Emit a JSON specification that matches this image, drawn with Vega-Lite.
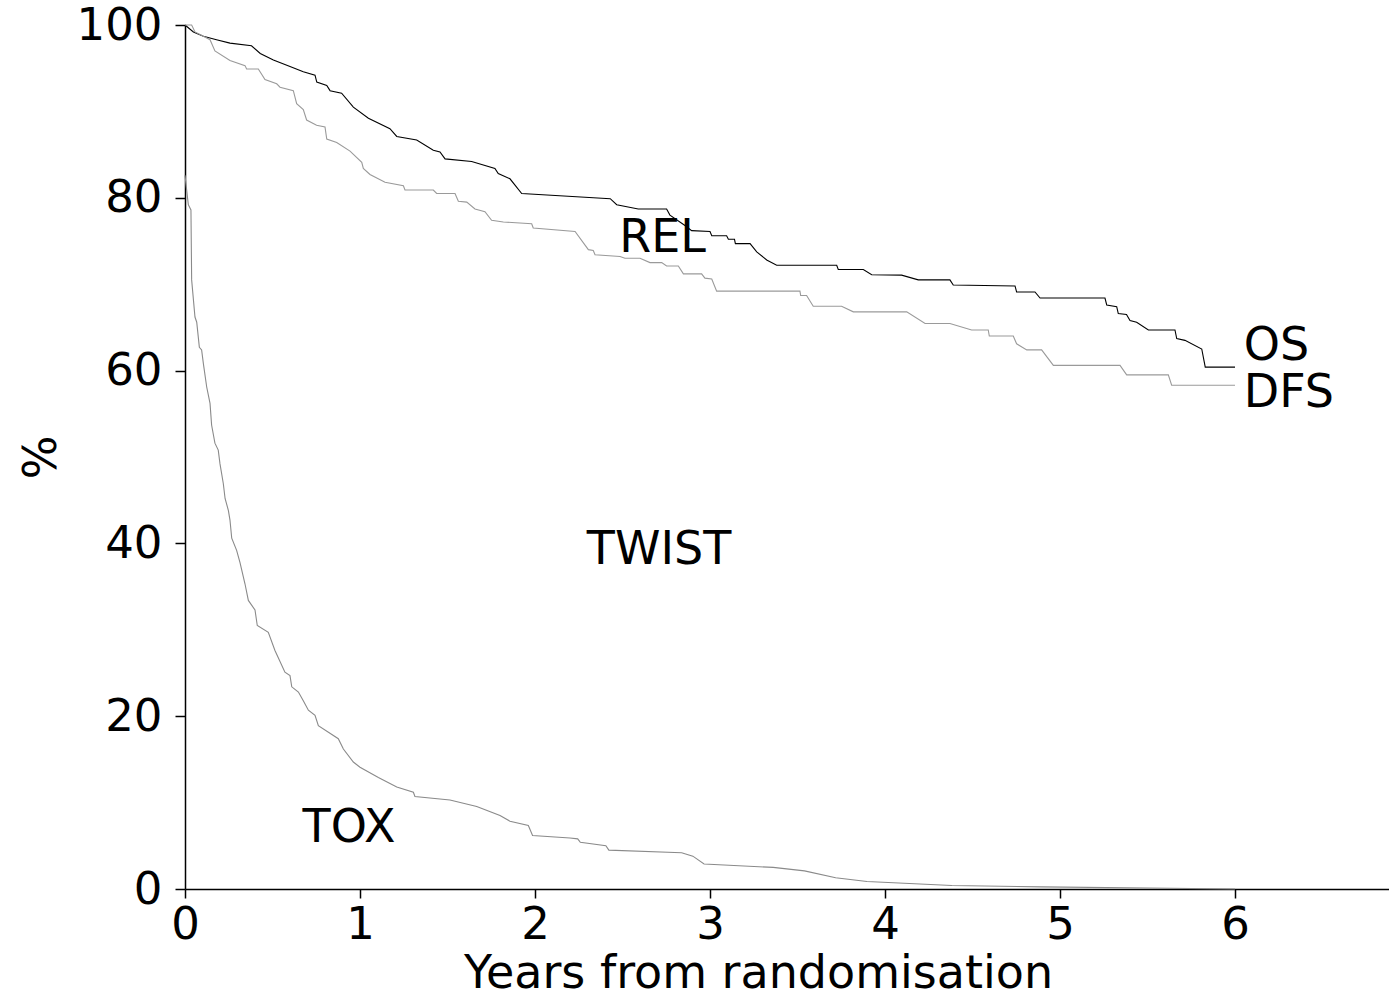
{
  "$schema": "https://vega.github.io/schema/vega-lite/v6.json",
  "width": 1204,
  "height": 864,
  "autosize": {"type": "none"},
  "padding": {"left": 185, "top": 25, "right": 0, "bottom": 106},
  "background": "white",
  "config": {"view": {"stroke": null}, "font": "DejaVu Sans"},
  "layer": [
    {
      "data": {"values": [
        {"curve":"OS","t":0,"pct":100},{"curve":"OS","t":0.048,"pct":99.2},{"curve":"OS","t":0.105,"pct":98.7},{"curve":"OS","t":0.18,"pct":98.3},{"curve":"OS","t":0.257,"pct":97.9},{"curve":"OS","t":0.38,"pct":97.6},{"curve":"OS","t":0.43,"pct":96.7},{"curve":"OS","t":0.505,"pct":95.95},{"curve":"OS","t":0.6,"pct":95.2},{"curve":"OS","t":0.676,"pct":94.6},{"curve":"OS","t":0.743,"pct":94.2},{"curve":"OS","t":0.753,"pct":93.4},{"curve":"OS","t":0.81,"pct":93.0},{"curve":"OS","t":0.829,"pct":92.4},{"curve":"OS","t":0.895,"pct":92.1},{"curve":"OS","t":0.962,"pct":90.5},{"curve":"OS","t":1.048,"pct":89.2},{"curve":"OS","t":1.171,"pct":88.0},{"curve":"OS","t":1.21,"pct":87.1},{"curve":"OS","t":1.324,"pct":86.7},{"curve":"OS","t":1.419,"pct":85.5},{"curve":"OS","t":1.457,"pct":85.3},{"curve":"OS","t":1.486,"pct":84.5},{"curve":"OS","t":1.638,"pct":84.2},{"curve":"OS","t":1.771,"pct":83.4},{"curve":"OS","t":1.79,"pct":82.8},{"curve":"OS","t":1.857,"pct":82.2},{"curve":"OS","t":1.924,"pct":80.5},{"curve":"OS","t":2.43,"pct":79.9},{"curve":"OS","t":2.467,"pct":79.2},{"curve":"OS","t":2.59,"pct":78.7},{"curve":"OS","t":2.752,"pct":78.7},{"curve":"OS","t":2.771,"pct":78.0},{"curve":"OS","t":2.857,"pct":76.8},{"curve":"OS","t":2.895,"pct":76.2},{"curve":"OS","t":3.0,"pct":76.1},{"curve":"OS","t":3.01,"pct":75.6},{"curve":"OS","t":3.095,"pct":75.6},{"curve":"OS","t":3.105,"pct":75.2},{"curve":"OS","t":3.14,"pct":75.2},{"curve":"OS","t":3.145,"pct":74.7},{"curve":"OS","t":3.229,"pct":74.7},{"curve":"OS","t":3.267,"pct":73.75},{"curve":"OS","t":3.324,"pct":72.8},{"curve":"OS","t":3.381,"pct":72.2},{"curve":"OS","t":3.724,"pct":72.2},{"curve":"OS","t":3.733,"pct":71.7},{"curve":"OS","t":3.876,"pct":71.7},{"curve":"OS","t":3.924,"pct":71.1},{"curve":"OS","t":4.095,"pct":71.05},{"curve":"OS","t":4.19,"pct":70.5},{"curve":"OS","t":4.371,"pct":70.5},{"curve":"OS","t":4.39,"pct":69.9},{"curve":"OS","t":4.743,"pct":69.8},{"curve":"OS","t":4.752,"pct":69.1},{"curve":"OS","t":4.857,"pct":69.1},{"curve":"OS","t":4.886,"pct":68.4},{"curve":"OS","t":5.257,"pct":68.4},{"curve":"OS","t":5.267,"pct":67.6},{"curve":"OS","t":5.324,"pct":67.4},{"curve":"OS","t":5.333,"pct":66.6},{"curve":"OS","t":5.38,"pct":66.5},{"curve":"OS","t":5.4,"pct":65.8},{"curve":"OS","t":5.438,"pct":65.6},{"curve":"OS","t":5.505,"pct":64.7},{"curve":"OS","t":5.657,"pct":64.7},{"curve":"OS","t":5.667,"pct":63.7},{"curve":"OS","t":5.714,"pct":63.5},{"curve":"OS","t":5.81,"pct":62.5},{"curve":"OS","t":5.83,"pct":60.4},{"curve":"OS","t":6.0,"pct":60.4},
        {"curve":"DFS","t":0,"pct":100},{"curve":"DFS","t":0.038,"pct":100},{"curve":"DFS","t":0.057,"pct":99.2},{"curve":"DFS","t":0.105,"pct":98.7},{"curve":"DFS","t":0.143,"pct":98.3},{"curve":"DFS","t":0.171,"pct":97.0},{"curve":"DFS","t":0.257,"pct":95.9},{"curve":"DFS","t":0.343,"pct":95.3},{"curve":"DFS","t":0.352,"pct":94.9},{"curve":"DFS","t":0.419,"pct":94.9},{"curve":"DFS","t":0.457,"pct":93.7},{"curve":"DFS","t":0.524,"pct":93.2},{"curve":"DFS","t":0.543,"pct":92.8},{"curve":"DFS","t":0.619,"pct":92.4},{"curve":"DFS","t":0.638,"pct":90.9},{"curve":"DFS","t":0.676,"pct":90.2},{"curve":"DFS","t":0.695,"pct":89.0},{"curve":"DFS","t":0.752,"pct":88.4},{"curve":"DFS","t":0.8,"pct":88.2},{"curve":"DFS","t":0.81,"pct":86.8},{"curve":"DFS","t":0.867,"pct":86.4},{"curve":"DFS","t":0.943,"pct":85.4},{"curve":"DFS","t":1.01,"pct":84.1},{"curve":"DFS","t":1.019,"pct":83.4},{"curve":"DFS","t":1.057,"pct":82.7},{"curve":"DFS","t":1.143,"pct":81.8},{"curve":"DFS","t":1.248,"pct":81.4},{"curve":"DFS","t":1.257,"pct":80.9},{"curve":"DFS","t":1.419,"pct":80.9},{"curve":"DFS","t":1.438,"pct":80.5},{"curve":"DFS","t":1.543,"pct":80.5},{"curve":"DFS","t":1.562,"pct":79.6},{"curve":"DFS","t":1.61,"pct":79.5},{"curve":"DFS","t":1.657,"pct":78.7},{"curve":"DFS","t":1.714,"pct":78.4},{"curve":"DFS","t":1.752,"pct":77.4},{"curve":"DFS","t":1.819,"pct":77.2},{"curve":"DFS","t":1.981,"pct":77.0},{"curve":"DFS","t":1.99,"pct":76.5},{"curve":"DFS","t":2.229,"pct":76.1},{"curve":"DFS","t":2.305,"pct":74.0},{"curve":"DFS","t":2.333,"pct":73.9},{"curve":"DFS","t":2.343,"pct":73.4},{"curve":"DFS","t":2.486,"pct":73.2},{"curve":"DFS","t":2.514,"pct":73.0},{"curve":"DFS","t":2.6,"pct":73.0},{"curve":"DFS","t":2.657,"pct":72.5},{"curve":"DFS","t":2.724,"pct":72.5},{"curve":"DFS","t":2.752,"pct":72.1},{"curve":"DFS","t":2.819,"pct":72.1},{"curve":"DFS","t":2.848,"pct":71.2},{"curve":"DFS","t":2.952,"pct":71.2},{"curve":"DFS","t":2.971,"pct":70.7},{"curve":"DFS","t":3.01,"pct":70.6},{"curve":"DFS","t":3.038,"pct":69.2},{"curve":"DFS","t":3.514,"pct":69.2},{"curve":"DFS","t":3.518,"pct":68.7},{"curve":"DFS","t":3.552,"pct":68.7},{"curve":"DFS","t":3.59,"pct":67.45},{"curve":"DFS","t":3.752,"pct":67.45},{"curve":"DFS","t":3.819,"pct":66.8},{"curve":"DFS","t":4.124,"pct":66.8},{"curve":"DFS","t":4.229,"pct":65.45},{"curve":"DFS","t":4.371,"pct":65.45},{"curve":"DFS","t":4.495,"pct":64.7},{"curve":"DFS","t":4.59,"pct":64.7},{"curve":"DFS","t":4.596,"pct":64.0},{"curve":"DFS","t":4.733,"pct":64.0},{"curve":"DFS","t":4.752,"pct":63.1},{"curve":"DFS","t":4.81,"pct":62.4},{"curve":"DFS","t":4.895,"pct":62.4},{"curve":"DFS","t":4.962,"pct":60.6},{"curve":"DFS","t":5.343,"pct":60.6},{"curve":"DFS","t":5.381,"pct":59.5},{"curve":"DFS","t":5.619,"pct":59.5},{"curve":"DFS","t":5.638,"pct":58.3},{"curve":"DFS","t":6.0,"pct":58.3},
        {"curve":"TOX","t":0,"pct":82.6},{"curve":"TOX","t":0.019,"pct":79.2},{"curve":"TOX","t":0.034,"pct":78.6},{"curve":"TOX","t":0.038,"pct":70.5},{"curve":"TOX","t":0.057,"pct":66.2},{"curve":"TOX","t":0.067,"pct":65.6},{"curve":"TOX","t":0.082,"pct":62.7},{"curve":"TOX","t":0.095,"pct":62.4},{"curve":"TOX","t":0.105,"pct":60.8},{"curve":"TOX","t":0.124,"pct":58.1},{"curve":"TOX","t":0.143,"pct":56.2},{"curve":"TOX","t":0.152,"pct":53.7},{"curve":"TOX","t":0.171,"pct":51.6},{"curve":"TOX","t":0.19,"pct":50.8},{"curve":"TOX","t":0.2,"pct":49.2},{"curve":"TOX","t":0.219,"pct":46.9},{"curve":"TOX","t":0.229,"pct":45.2},{"curve":"TOX","t":0.248,"pct":43.8},{"curve":"TOX","t":0.257,"pct":42.7},{"curve":"TOX","t":0.267,"pct":40.6},{"curve":"TOX","t":0.295,"pct":39.2},{"curve":"TOX","t":0.314,"pct":37.8},{"curve":"TOX","t":0.343,"pct":35.3},{"curve":"TOX","t":0.362,"pct":33.4},{"curve":"TOX","t":0.4,"pct":32.3},{"curve":"TOX","t":0.413,"pct":30.5},{"curve":"TOX","t":0.476,"pct":29.7},{"curve":"TOX","t":0.514,"pct":27.6},{"curve":"TOX","t":0.571,"pct":25.1},{"curve":"TOX","t":0.6,"pct":24.7},{"curve":"TOX","t":0.61,"pct":23.4},{"curve":"TOX","t":0.648,"pct":22.8},{"curve":"TOX","t":0.676,"pct":21.8},{"curve":"TOX","t":0.705,"pct":20.7},{"curve":"TOX","t":0.743,"pct":20.1},{"curve":"TOX","t":0.762,"pct":18.9},{"curve":"TOX","t":0.876,"pct":17.4},{"curve":"TOX","t":0.905,"pct":16.2},{"curve":"TOX","t":0.962,"pct":14.7},{"curve":"TOX","t":1.0,"pct":14.1},{"curve":"TOX","t":1.105,"pct":12.9},{"curve":"TOX","t":1.21,"pct":11.8},{"curve":"TOX","t":1.305,"pct":11.2},{"curve":"TOX","t":1.314,"pct":10.7},{"curve":"TOX","t":1.514,"pct":10.3},{"curve":"TOX","t":1.667,"pct":9.55},{"curve":"TOX","t":1.8,"pct":8.5},{"curve":"TOX","t":1.857,"pct":7.85},{"curve":"TOX","t":1.962,"pct":7.35},{"curve":"TOX","t":1.986,"pct":6.2},{"curve":"TOX","t":2.2,"pct":5.9},{"curve":"TOX","t":2.244,"pct":5.8},{"curve":"TOX","t":2.259,"pct":5.4},{"curve":"TOX","t":2.405,"pct":5.0},{"curve":"TOX","t":2.422,"pct":4.5},{"curve":"TOX","t":2.838,"pct":4.2},{"curve":"TOX","t":2.902,"pct":3.8},{"curve":"TOX","t":2.966,"pct":2.9},{"curve":"TOX","t":3.361,"pct":2.5},{"curve":"TOX","t":3.54,"pct":2.1},{"curve":"TOX","t":3.718,"pct":1.3},{"curve":"TOX","t":3.897,"pct":0.87},{"curve":"TOX","t":4.382,"pct":0.4},{"curve":"TOX","t":4.896,"pct":0.25},{"curve":"TOX","t":6.0,"pct":0.0}
      ]},
      "mark": {"type": "line", "strokeWidth": 1.1},
      "encoding": {
        "x": {"field": "t", "type": "quantitative",
          "scale": {"domain": [0, 6.88], "nice": false, "zero": false},
          "axis": {"values": [0,1,2,3,4,5,6], "format": "d", "grid": false, "domainColor": "black", "domainWidth": 1.5,
            "tickColor": "black", "tickWidth": 1.5, "tickSize": 9, "labelFontSize": 45, "labelColor": "black",
            "labelPadding": 4, "labelFlush": false, "labelFont": "DejaVu Sans",
            "title": "Years from randomisation", "titleFontSize": 46, "titleFontWeight": "normal", "titleColor": "black",
            "titleFont": "DejaVu Sans", "titleX": 573, "titleY": 62, "titleBaseline": "top", "titleAlign": "center"}},
        "y": {"field": "pct", "type": "quantitative",
          "scale": {"domain": [0, 100], "nice": false},
          "axis": {"values": [0,20,40,60,80,100], "format": "d", "grid": false, "domainColor": "black", "domainWidth": 1.5,
            "tickColor": "black", "tickWidth": 1.5, "tickSize": 10, "labelFontSize": 45, "labelColor": "black",
            "labelPadding": 13, "labelFlush": false, "labelFont": "DejaVu Sans",
            "title": "%", "titleFontSize": 46, "titleFontWeight": "normal", "titleColor": "black",
            "titleFont": "DejaVu Sans", "titleAngle": -90, "titleX": -144, "titleY": 432, "titleBaseline": "middle", "titleAlign": "center"}},
        "color": {"field": "curve", "type": "nominal",
          "scale": {"domain": ["OS", "DFS", "TOX"], "range": ["#000000", "#9a9a9a", "#8a8a8a"]},
          "legend": null}
      }
    },
    {
      "data": {"values": [
        {"label": "REL", "t": 2.729, "pct": 73.75},
        {"label": "TWIST", "t": 2.709, "pct": 37.66},
        {"label": "TOX", "t": 0.937, "pct": 5.42}
      ]},
      "mark": {"type": "text", "align": "center", "baseline": "alphabetic", "fontSize": 46, "font": "DejaVu Sans", "color": "black"},
      "encoding": {
        "x": {"field": "t", "type": "quantitative"},
        "y": {"field": "pct", "type": "quantitative"},
        "text": {"field": "label"}
      }
    },
    {
      "data": {"values": [
        {"label": "OS", "t": 6.05, "pct": 61.2},
        {"label": "DFS", "t": 6.05, "pct": 55.8}
      ]},
      "mark": {"type": "text", "align": "left", "baseline": "alphabetic", "fontSize": 46, "font": "DejaVu Sans", "color": "black"},
      "encoding": {
        "x": {"field": "t", "type": "quantitative"},
        "y": {"field": "pct", "type": "quantitative"},
        "text": {"field": "label"}
      }
    }
  ]
}
